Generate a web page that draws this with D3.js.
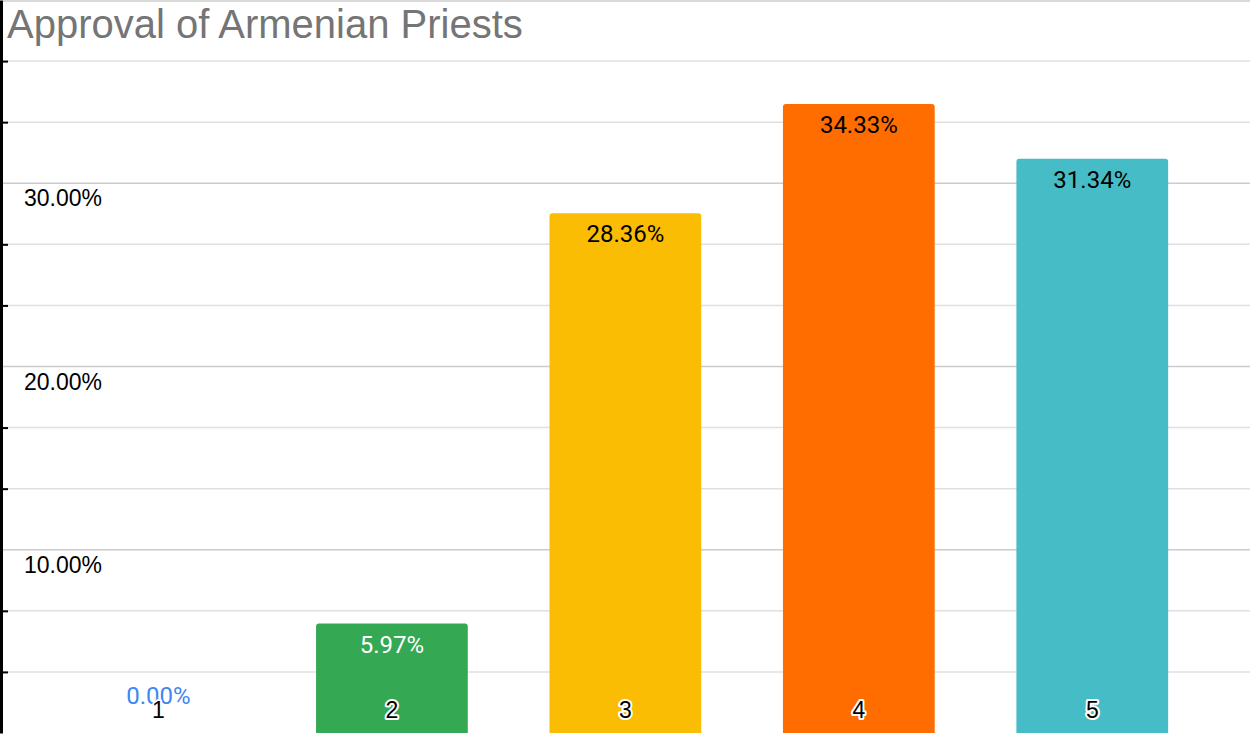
<!DOCTYPE html>
<html>
<head>
<meta charset="utf-8">
<script src="https://cdn.jsdelivr.net/npm/d3@7"></script>
<style>
  body { margin: 0; background: #fff; }
</style>
</head>
<body>
<div id="chart"></div>
<script>
var canvasWidth = 1250;
var canvasHeight = 734;

// data
var categories = ["1", "2", "3", "4", "5"];
var approval = [0, 5.97, 28.36, 34.33, 31.34];
var majorTicks = [10, 20, 30, 40];
var majorTickLabels = ["10.00%", "20.00%", "30.00%", ""];
var minorTicks = [10/3, 20/3, 40/3, 50/3, 70/3, 80/3, 100/3, 110/3];

var barColors = ["#4285f4", "#34a853", "#fbbc04", "#ff6d01", "#46bdc6"];
var labelColors = ["#4285f4", "#ffffff", "#000000", "#000000", "#000000"];

var svg = d3.select("#chart")
    .append("svg")
    .attr("width", canvasWidth)
    .attr("height", canvasHeight);

var y = d3.scaleLinear()
    .domain([0, 40])
    .range([733, 0]);

var x = d3.scaleBand()
    .domain(categories)
    .range([41.75, 1209])
    .paddingInner(0.35)
    .paddingOuter(0.175);

// grid lines
svg.append("g")
    .selectAll("line")
    .data(minorTicks)
    .join("line")
    .attr("x1", 3)
    .attr("x2", canvasWidth)
    .attr("y1", d => y(d))
    .attr("y2", d => y(d))
    .attr("stroke", "#e0e0e0")
    .attr("stroke-width", 1.5);

svg.append("g")
    .selectAll("line")
    .data(majorTicks)
    .join("line")
    .attr("x1", 3)
    .attr("x2", canvasWidth)
    .attr("y1", d => Math.max(1, y(d)))
    .attr("y2", d => Math.max(1, y(d)))
    .attr("stroke", "#cccccc")
    .attr("stroke-width", 1.5);

// bars with rounded top corners
function barPath(d, i) {
    var x0 = x(categories[i]), w = x.bandwidth();
    var top = y(d), bottom = y(0);
    var r = Math.min(3, (bottom - top) / 2);
    if (bottom - top <= 0) return "";
    return "M" + x0 + "," + bottom +
        "V" + (top + r) +
        "Q" + x0 + "," + top + " " + (x0 + r) + "," + top +
        "H" + (x0 + w - r) +
        "Q" + (x0 + w) + "," + top + " " + (x0 + w) + "," + (top + r) +
        "V" + bottom + "Z";
}

svg.append("g")
    .selectAll("path")
    .data(approval)
    .join("path")
    .attr("d", barPath)
    .attr("fill", (d, i) => barColors[i]);

// y axis line + minor ticks
var axis = d3.axisRight(y)
    .tickValues(minorTicks)
    .tickSize(7)
    .tickSizeOuter(0)
    .tickFormat("");

var gAxis = svg.append("g")
    .attr("transform", "translate(1,0)")
    .call(axis);
gAxis.select(".domain").attr("stroke", "#000").attr("stroke-width", 3);
gAxis.selectAll(".tick line").attr("stroke", "#000").attr("stroke-width", 2);

// y tick labels (below the major grid line)
svg.append("g")
    .selectAll("text")
    .data(majorTicks)
    .join("text")
    .attr("x", 24)
    .attr("y", d => y(d) + 23)
    .attr("font-family", "Liberation Sans, Arial, sans-serif")
    .attr("font-size", 23)
    .attr("fill", "#000")
    .text((d, i) => majorTickLabels[i]);

// value labels
svg.append("g")
    .selectAll("text")
    .data(approval)
    .join("text")
    .attr("x", (d, i) => x(categories[i]) + x.bandwidth() / 2)
    .attr("y", d => (y(0) - y(d) > 40) ? y(d) + 29 : y(d) - 29)
    .attr("text-anchor", "middle")
    .attr("font-family", "Roboto, sans-serif")
    .attr("font-size", 24)
    .attr("fill", (d, i) => labelColors[i])
    .text(d => d.toFixed(2) + "%");

// category labels with white halo
svg.append("g")
    .selectAll("text")
    .data(categories)
    .join("text")
    .attr("x", d => x(d) + x.bandwidth() / 2)
    .attr("y", 718)
    .attr("text-anchor", "middle")
    .attr("font-family", "Liberation Sans, Arial, sans-serif")
    .attr("font-size", 23)
    .attr("fill", "#000")
    .attr("stroke", "#fff")
    .attr("stroke-width", 4)
    .attr("stroke-linejoin", "round")
    .attr("paint-order", "stroke")
    .text(d => d);

// title
svg.append("text")
    .attr("x", 7)
    .attr("y", 38)
    .attr("font-family", "Liberation Sans, Arial, sans-serif")
    .attr("font-size", 40)
    .attr("fill", "#757575")
    .text("Approval of Armenian Priests");
</script>
</body>
</html>
